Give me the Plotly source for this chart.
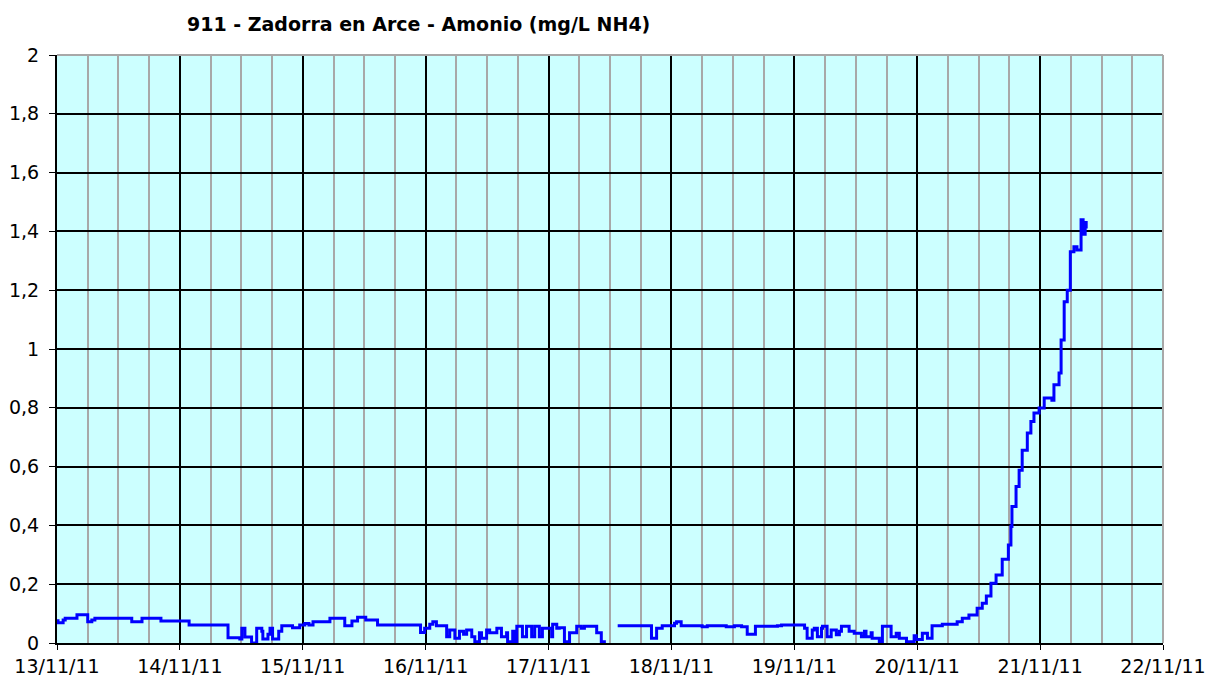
import plotly.graph_objects as go
import pandas as pd

title_text = "911 - Zadorra en Arce - Amonio (mg/L NH4)"
start_date = "2011-11-13"

# hours since 13/11/11 00:00 and ammonium values (mg/L NH4)
hours = [
    0.0, 0.2, 1.2, 1.6, 3.9, 6.0, 6.8, 7.4, 14.6, 16.6, 20.3, 25.8, 33.4, 35.7,
    36.1, 36.7, 38.0, 39.0, 40.0, 40.2, 41.2, 41.6, 42.1, 43.3, 43.9, 46.0, 47.4,
    48.4, 49.2, 50.0, 53.3, 56.2, 57.6, 58.7, 60.3, 62.6, 71.0, 71.8, 72.8, 73.4,
    74.1, 76.1, 76.7, 77.7, 78.6, 79.4, 80.0, 81.0, 81.6, 82.5, 82.9, 83.9, 84.5,
    85.9, 86.8, 87.8, 88.0, 89.0, 89.4, 89.8, 90.9, 91.7, 92.7, 93.3, 94.2, 94.8,
    96.6, 96.8, 97.6, 98.1, 99.1, 100.1, 101.5, 102.4, 103.0, 105.4, 106.3, 106.9,
    107.0,
    109.5, 116.1, 117.1, 118.2, 120.6, 121.0, 121.9, 126.0, 127.0, 130.7, 132.3,
    133.7, 134.8, 136.4, 140.7, 141.5, 146.0, 146.5, 147.5, 147.9, 148.5, 149.3,
    149.5, 150.4, 151.2, 152.2, 152.8, 153.2, 154.7, 155.7, 157.1, 157.7, 158.0,
    159.0, 159.2, 160.6, 161.2, 162.9, 163.9, 164.5, 165.9, 167.4, 167.8, 169.0,
    170.0, 170.9, 172.9, 175.8, 176.8, 178.1, 179.7, 180.7, 181.5, 182.4, 183.4,
    184.6, 185.8, 186.3, 186.5, 187.3, 187.9, 188.5, 189.5, 190.2, 190.8, 191.8,
    192.8, 194.3, 194.7, 195.7, 196.1, 196.7, 197.3, 197.9, 198.6, 199.2, 200.0,
    200.4, 200.8, 201.0,
]
values = [
    0.076, 0.069, 0.078, 0.084, 0.096, 0.072, 0.078, 0.084, 0.072, 0.084, 0.075,
    0.061, 0.018, 0.014, 0.05, 0.02, 0.0, 0.05, 0.04, 0.014, 0.03, 0.05, 0.014,
    0.04, 0.059, 0.052, 0.061, 0.066, 0.061, 0.072, 0.084, 0.059, 0.075, 0.088,
    0.078, 0.061, 0.036, 0.05, 0.064, 0.072, 0.059, 0.021, 0.044, 0.016, 0.04,
    0.03, 0.044, 0.021, 0.004, 0.035, 0.016, 0.044, 0.035, 0.05, 0.021, 0.035,
    0.004, 0.04, 0.004, 0.057, 0.021, 0.057, 0.021, 0.057, 0.021, 0.05, 0.021,
    0.064, 0.05, 0.052, 0.004, 0.035, 0.057, 0.05, 0.057, 0.035, 0.004, 0.0,
    None,
    0.059, 0.016, 0.05, 0.059, 0.067, 0.072, 0.059, 0.055, 0.059, 0.055, 0.059,
    0.055, 0.03, 0.057, 0.059, 0.061, 0.05, 0.016, 0.044, 0.05, 0.021, 0.05,
    0.057, 0.021, 0.044, 0.028, 0.04, 0.057, 0.04, 0.033, 0.021, 0.04, 0.021,
    0.035, 0.016, 0.004, 0.057, 0.021, 0.033, 0.016, 0.004, 0.025, 0.012, 0.033,
    0.016, 0.059, 0.064, 0.072, 0.084, 0.095, 0.118, 0.135, 0.16, 0.203, 0.231,
    0.285, 0.333, 0.396, 0.464, 0.532, 0.588, 0.656, 0.714, 0.753, 0.782, 0.799,
    0.833, 0.826, 0.878, 0.918, 1.031, 1.161, 1.2, 1.331, 1.348, 1.337, 1.44,
    1.39, 1.43, 1.41,
]

y_tick_vals = [0, 0.2, 0.4, 0.6, 0.8, 1.0, 1.2, 1.4, 1.6, 1.8, 2.0]
y_tick_text = ["0", "0,2", "0,4", "0,6", "0,8", "1", "1,2", "1,4", "1,6", "1,8", "2"]
x_tick_dates = ["2011-11-13", "2011-11-14", "2011-11-15", "2011-11-16", "2011-11-17",
                "2011-11-18", "2011-11-19", "2011-11-20", "2011-11-21", "2011-11-22"]
x_tick_text = ["13/11/11", "14/11/11", "15/11/11", "16/11/11", "17/11/11",
               "18/11/11", "19/11/11", "20/11/11", "21/11/11", "22/11/11"]

times = pd.Timestamp(start_date) + pd.to_timedelta(hours, unit="h")

fig = go.Figure()
fig.add_trace(go.Scatter(
    x=times, y=values, mode="lines", line=dict(color="#0000FF", width=3, shape="hv"),
    connectgaps=False, showlegend=False,
))

font_family = "DejaVu Sans, Verdana, sans-serif"
fig.update_layout(
    width=1216, height=680,
    margin=dict(l=57, r=53, t=55, b=37),
    paper_bgcolor="white", plot_bgcolor="#CCFFFF",
    title=dict(text="<b>" + title_text + "</b>", x=187 / 1216, xanchor="left", xref="container",
               y=1 - 24 / 680, yanchor="middle", yref="container",
               font=dict(family=font_family, size=19, color="black")),
    font=dict(family=font_family, size=19, color="black"),
    showlegend=False,
)
fig.update_xaxes(
    type="date", automargin=False,
    range=[x_tick_dates[0], x_tick_dates[-1]],
    tickmode="array", tickvals=x_tick_dates, ticktext=x_tick_text,
    showgrid=True, gridcolor="black", gridwidth=2,
    minor=dict(dtick=6 * 3600 * 1000, showgrid=True, gridcolor="#A8A8A8", gridwidth=2),
    showline=True, linecolor="black", linewidth=2,
    ticks="outside", ticklen=5, tickcolor="black", tickwidth=1,
    zeroline=False,
)
fig.update_yaxes(
    automargin=False,
    range=[0, 2],
    tickmode="array", tickvals=y_tick_vals, ticktext=y_tick_text,
    showgrid=True, gridcolor="black", gridwidth=2,
    showline=True, linecolor="black", linewidth=2,
    ticks="outside", ticklen=6, tickcolor="black", tickwidth=1,
    ticklabelstandoff=6,
    zeroline=False,
)
fig.add_shape(type="line", xref="paper", yref="paper", x0=0, x1=1, y0=1, y1=1,
              line=dict(color="#A8A8A8", width=2), layer="above")
fig.add_shape(type="line", xref="paper", yref="paper", x0=1, x1=1, y0=0, y1=1,
              line=dict(color="#A8A8A8", width=2), layer="above")

fig.write_html("out.html", config={"displayModeBar": False},
               post_script="document.body.style.margin='0';document.body.style.overflow='hidden';")
